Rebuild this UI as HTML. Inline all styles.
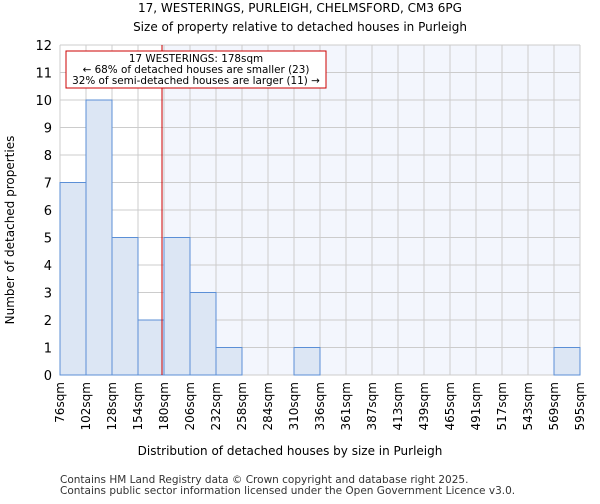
<!DOCTYPE html>
<html><head><meta charset="utf-8"><style>
body{margin:0;background:#fff;font-family:"DejaVu Sans","Liberation Sans",sans-serif;}
</style></head><body>
<svg id="c" width="600" height="500" xmlns="http://www.w3.org/2000/svg" font-family="DejaVu Sans, Liberation Sans, sans-serif">
<text x="300" y="12" text-anchor="middle" font-size="12">17, WESTERINGS, PURLEIGH, CHELMSFORD, CM3 6PG</text>
<text x="300" y="31" text-anchor="middle" font-size="12">Size of property relative to detached houses in Purleigh</text>
<g id="plot"></g>
<text x="290" y="455" text-anchor="middle" font-size="12">Distribution of detached houses by size in Purleigh</text>
<text x="14" y="230" text-anchor="middle" font-size="12" transform="rotate(-90 14 230)">Number of detached properties</text>
<text x="60" y="483" font-size="10.5" fill="#333">Contains HM Land Registry data © Crown copyright and database right 2025.</text>
<text x="60" y="494" font-size="10.5" fill="#333">Contains public sector information licensed under the Open Government Licence v3.0.</text>
</svg>
<script>
const binLabels=["76sqm","102sqm","128sqm","154sqm","180sqm","206sqm","232sqm","258sqm","284sqm","310sqm","336sqm","361sqm","387sqm","413sqm","439sqm","465sqm","491sqm","517sqm","543sqm","569sqm","595sqm"];
const binEdges=[76,102,128,154,180,206,232,258,284,310,336,361,387,413,439,465,491,517,543,569,595];
const counts=[7,10,5,2,5,3,1,0,0,1,0,0,0,0,0,0,0,0,0,1];
const yTicks=[0,1,2,3,4,5,6,7,8,9,10,11,12];
const subjectSize=178;
const L=60,R=580,T=45,B=375,yMax=12;
const n=counts.length;
const xi=i=>L+(R-L)*i/n;
const xv=v=>{for(let i=0;i<n;i++){if(v<=binEdges[i+1])return xi(i)+(v-binEdges[i])/(binEdges[i+1]-binEdges[i])*(xi(i+1)-xi(i));}return R;};
const y=v=>B-(B-T)*v/yMax;
const g=document.getElementById('plot');
const NS="http://www.w3.org/2000/svg";
function mk(t,a){const e=document.createElementNS(NS,t);for(const k in a)e.setAttribute(k,a[k]);g.appendChild(e);return e;}
const sx=xv(subjectSize);
let e=mk('rect',{x:sx,y:T,width:R-sx,height:B-T,fill:'#f3f6fd'});


for(let i=0;i<=n;i++){e=mk('line',{x1:xi(i),x2:xi(i),y1:T,y2:B,stroke:'#ccc','stroke-width':1});

}
yTicks.forEach(t=>{e=mk('line',{x1:L,x2:R,y1:y(t),y2:y(t),stroke:'#ccc','stroke-width':1});


e=mk('text',{x:L-8,y:y(t)+5,'text-anchor':'end','font-size':13});e.textContent=t;

});
counts.forEach((c,i)=>{if(c>0){e=mk('rect',{x:xi(i),y:y(c),width:xi(i+1)-xi(i),height:B-y(c),fill:'#dce6f4',stroke:'#5b8fd6','stroke-width':1});

}});
binLabels.forEach((l,i)=>{const px=xi(i)+4;e=mk('text',{x:px,y:382,'text-anchor':'end','font-size':12,transform:`rotate(-90 ${px} 382)`});e.textContent=l;

});
e=mk('line',{x1:sx,x2:sx,y1:T,y2:B,stroke:'#cc0000','stroke-width':1});


e=mk('rect',{x:66,y:51,width:260,height:37,fill:'#fff',stroke:'#cc0000','stroke-width':1});


["17 WESTERINGS: 178sqm","← 68% of detached houses are smaller (23)","32% of semi-detached houses are larger (11) →"].forEach((s,i)=>{e=mk('text',{x:196,y:62+i*11,'text-anchor':'middle','font-size':10.4});e.textContent=s;

});
</script>
</body></html>
